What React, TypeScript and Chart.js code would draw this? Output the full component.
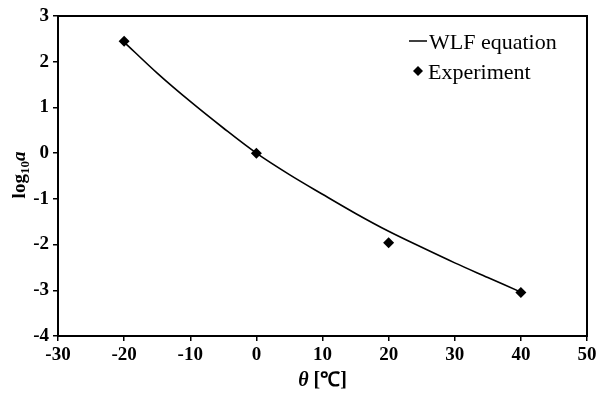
import React, { useEffect, useRef } from "react";
import { Chart, registerables } from "chart.js";

Chart.register(...registerables);

// WLF equation curve
const curveTemps = [-20, -15, -10, -5, 0, 5, 10, 15, 20, 25, 30, 35, 40];
const curveLogA = [2.43, 1.75, 1.13, 0.55, 0, -0.47, -0.9, -1.32, -1.71, -2.06, -2.4, -2.72, -3.04];

// Experiment points
const expTemps = [-20, 0, 20, 40];
const expLogA = [2.45, 0, -1.96, -3.05];

const xTicks = { min: -30, max: 50, step: 10 };
const yTicks = { min: -4, max: 3, step: 1 };

const seriesNames = ["WLF equation", "Experiment"];

const SERIF = "'Liberation Serif', 'Times New Roman', serif";

export default function App() {
  const ref = useRef<HTMLCanvasElement>(null);

  useEffect(() => {
    const canvas = ref.current;
    if (!canvas) return;

    const framePlugin = {
      id: "frameAndText",
      afterDraw(chart: any) {
        const { ctx, chartArea } = chart;
        const { left, right, top, bottom } = chartArea;
        ctx.save();
        // frame
        ctx.strokeStyle = "#000";
        ctx.lineWidth = 2;
        ctx.strokeRect(left, top, right - left, bottom - top);

        // legend
        const lx = right - 178;
        ctx.lineWidth = 1.5;
        ctx.beginPath();
        ctx.moveTo(lx, top + 25);
        ctx.lineTo(lx + 18, top + 25);
        ctx.stroke();
        ctx.fillStyle = "#000";
        ctx.font = `22px ${SERIF}`;
        ctx.textBaseline = "alphabetic";
        ctx.textAlign = "left";
        ctx.fillText(seriesNames[0], lx + 20, top + 33);
        const dx = lx + 9;
        const dy = top + 55;
        const r = 5;
        ctx.beginPath();
        ctx.moveTo(dx, dy - r);
        ctx.lineTo(dx + r, dy);
        ctx.lineTo(dx, dy + r);
        ctx.lineTo(dx - r, dy);
        ctx.closePath();
        ctx.fill();
        ctx.fillText(seriesNames[1], lx + 19, top + 63);

        // x title
        const cx = (left + right) / 2;
        const f1 = `italic bold 20px ${SERIF}`;
        const f2 = `bold 20px ${SERIF}`;
        ctx.font = f1;
        const w1 = ctx.measureText("θ").width;
        ctx.font = f2;
        const s2 = " [℃]";
        const w2 = ctx.measureText(s2).width;
        let x0 = cx - (w1 + w2) / 2;
        const by = bottom + 50;
        ctx.font = f1;
        ctx.fillText("θ", x0, by);
        ctx.font = f2;
        ctx.fillText(s2, x0 + w1, by);

        // y title
        const fl = `bold 19px ${SERIF}`;
        const fs = `bold 13px ${SERIF}`;
        const fa = `italic bold 19px ${SERIF}`;
        ctx.font = fl;
        const wl = ctx.measureText("log").width;
        ctx.font = fs;
        const ws = ctx.measureText("10").width;
        ctx.font = fa;
        const wa = ctx.measureText("a").width;
        const total = wl + ws + wa;
        const cy = 175;
        ctx.translate(25, cy + total / 2);
        ctx.rotate(-Math.PI / 2);
        ctx.font = fl;
        ctx.fillText("log", 0, 0);
        ctx.font = fs;
        ctx.fillText("10", wl, 4);
        ctx.font = fa;
        ctx.fillText("a", wl + ws, 0);
        ctx.restore();
      },
    };

    const chart = new Chart(canvas, {
      type: "scatter",
      data: {
        datasets: [
          {
            label: seriesNames[0],
            data: curveTemps.map((t, i) => ({ x: t, y: curveLogA[i] })),
            showLine: true,
            borderColor: "#000",
            borderWidth: 1.6,
            pointRadius: 0,
            cubicInterpolationMode: "monotone",
            fill: false,
          },
          {
            label: seriesNames[1],
            data: expTemps.map((t, i) => ({ x: t, y: expLogA[i] })),
            showLine: false,
            pointStyle: "rectRot",
            pointRadius: 5.5,
            backgroundColor: "#000",
            borderColor: "#000",
            borderWidth: 0,
          },
        ],
      },
      options: {
        responsive: false,
        animation: false,
        devicePixelRatio: 1,
        layout: { padding: { top: 16, right: 14, left: 0, bottom: 0 } },
        plugins: { legend: { display: false }, tooltip: { enabled: false } },
        scales: {
          x: {
            type: "linear",
            min: xTicks.min,
            max: xTicks.max,
            afterFit(scale: any) {
              scale.height = 58;
            },
            ticks: {
              stepSize: xTicks.step,
              color: "#000",
              padding: 3,
              maxRotation: 0,
              font: { family: SERIF, size: 19, weight: "bold" },
            },
            grid: {
              display: true,
              drawOnChartArea: false,
              drawTicks: true,
              tickLength: 5,
              color: "#000",
              lineWidth: 1.5,
            },
            border: { display: true, color: "#000", width: 2 },
          },
          y: {
            type: "linear",
            min: yTicks.min,
            max: yTicks.max,
            afterFit(scale: any) {
              scale.width = 58;
            },
            ticks: {
              stepSize: yTicks.step,
              color: "#000",
              padding: 4,
              font: { family: SERIF, size: 19, weight: "bold" },
            },
            grid: {
              display: true,
              drawOnChartArea: false,
              drawTicks: true,
              tickLength: 5,
              color: "#000",
              lineWidth: 1.5,
            },
            border: { display: true, color: "#000", width: 2 },
          },
        },
      },
      plugins: [framePlugin],
    } as any);

    return () => chart.destroy();
  }, []);

  return (
    <div style={{ position: "fixed", left: 0, top: 0, width: 601, height: 394, background: "#fff" }}>
      <canvas ref={ref} width={601} height={394} style={{ width: 601, height: 394, display: "block" }} />
    </div>
  );
}
